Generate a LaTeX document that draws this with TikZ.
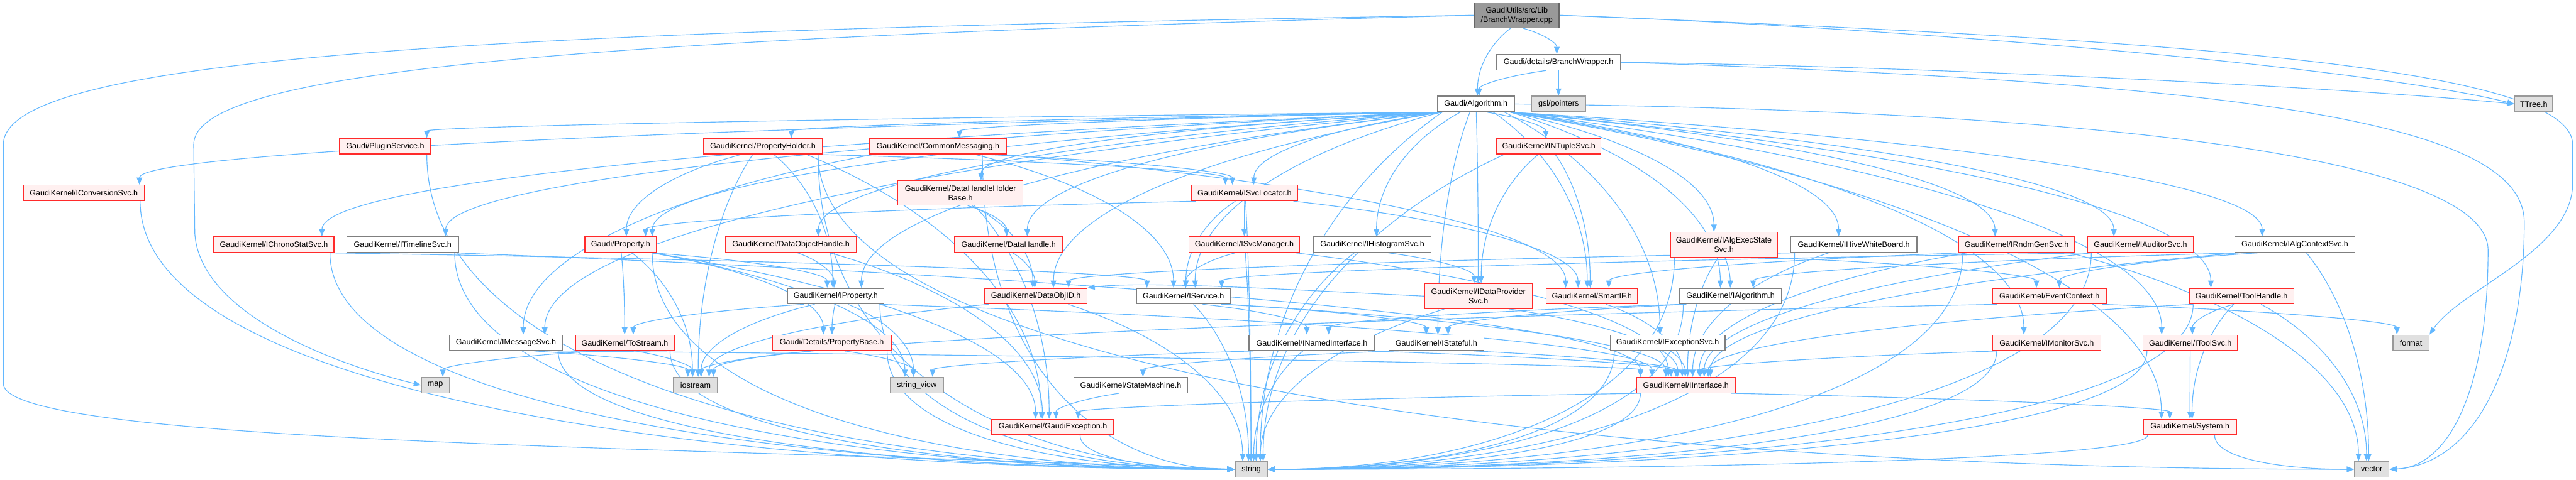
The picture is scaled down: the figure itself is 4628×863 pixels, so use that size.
\documentclass[tikz,border=0pt]{standalone}
\usepackage{fontspec}
\newfontfamily\labfont{Liberation Sans}
\usetikzlibrary{arrows.meta,calc}
\definecolor{eblue}{HTML}{63B8FF}
\definecolor{rbord}{HTML}{FF2A2A}
\definecolor{rfill}{HTML}{FFF0F0}
\definecolor{wbord}{HTML}{7F7F7F}
\definecolor{gfill}{HTML}{E0E0E0}
\definecolor{gbord}{HTML}{999999}
\definecolor{rootfill}{HTML}{999999}
\definecolor{rootbord}{HTML}{666666}
\pgfdeclarelayer{bg}
\pgfsetlayers{bg,main}
\tikzset{
 nbox/.style={draw, line width=0.8pt, inner sep=0pt, minimum height=14pt, align=center, font=\labfont\fontsize{7.1}{8.5}\selectfont},
 rbox/.style={nbox, draw=rbord, fill=rfill},
 wbox/.style={nbox, draw=wbord, fill=white},
 gbox/.style={nbox, draw=gbord, fill=gfill},
 rootbox/.style={nbox, draw=rootbord, fill=rootfill},
 tall/.style={minimum height=22.5pt},
 lnk/.style={draw=eblue, line width=0.65pt, -{Triangle[length=6.5pt,width=5pt]}},
}
\newcommand\Elk[2]{%
\draw[lnk] let \p1=(#1.south west),\p2=(#1.south east),\p3=(#2.north west),\p4=(#2.north east),
 \n1={(\x1+\x2)/2},\n2={(\x3+\x4)/2},
 \n3={min(max(\n1+0.15*(\n2-\n1),\x1+4),\x2-4)},
 \n4={min(max(\n2-0.04*(\n2-\n1),\x3+4),\x4-4)},
 \n5={\y1-\y3}
 in ({\n3*1pt},\y1) .. controls ({(\n3+0.55*(\n4-\n3))*1pt},{\y1-0.2*\n5}) and ({\n4*1pt},{\y3+0.45*\n5}) .. ({\n4*1pt},\y3);}
\newcommand\Ehz[3]{%
\draw[lnk] let \p1=(#1.south west),\p2=(#1.south east),\p3=(#2.#3),
 \n1={(\x1+\x2)/2},
 \n3={min(max(\n1+0.15*(\x3-\n1),\x1+4),\x2-4)}
 in ({\n3*1pt},\y1) .. controls ({\n3*1pt},{\y1+0.7*(\y3-\y1)}) and ({(\x3+0.5*(\n3-\x3))*1pt},\y3) .. (\p3);}
\newcommand\Fan[2]{\foreach \tgt in {#2}{\Elk{#1}{\tgt}}}
\newcommand\Into[3]{\foreach \src in {#2}{\Ehz{\src}{#1}{#3}}}
\begin{document}
\begin{tikzpicture}[x=0.5pt,y=-0.5pt]
\useasboundingbox (0,0) rectangle (4628,863);
% ---------- nodes ----------
\node[rootbox,tall,minimum width=76pt] (cpp) at (2725,27.5) {GaudiUtils/src/Lib\\/BranchWrapper.cpp};
\node[wbox,minimum width=111pt] (bwh) at (2800,112) {Gaudi/details/BranchWrapper.h};
\node[wbox,minimum width=69.5pt] (alg) at (2651.5,187) {Gaudi/Algorithm.h};
\node[gbox,minimum width=49pt] (gsl) at (2800,187) {gsl/pointers};
\node[gbox,minimum width=34pt] (TTree) at (4552,187) {TTree.h};
\node[rbox,minimum width=82pt] (plugin) at (692,263) {Gaudi/PluginService.h};
\node[rbox,minimum width=106.5pt] (propholder) at (1370.5,263) {GaudiKernel/PropertyHolder.h};
\node[rbox,minimum width=123pt] (commsg) at (1685,263) {GaudiKernel/CommonMessaging.h};
\node[rbox,minimum width=93.5pt] (intuple) at (2782.5,263) {GaudiKernel/INTupleSvc.h};
\node[rbox,minimum width=108.5pt] (iconv) at (150.5,347) {GaudiKernel/IConversionSvc.h};
\node[rbox,minimum height=22pt,minimum width=112.5pt] (dhhb) at (1725.5,347) {GaudiKernel/DataHandleHolder\\Base.h};
\node[rbox,minimum width=95pt] (isvcloc) at (2236,347) {GaudiKernel/ISvcLocator.h};
\node[rbox,minimum width=108pt] (ichrono) at (492,440) {GaudiKernel/IChronoStatSvc.h};
\node[wbox,minimum width=100.5pt] (itimeline) at (723.5,440) {GaudiKernel/ITimelineSvc.h};
\node[rbox,minimum width=64pt] (property) at (1115,440) {Gaudi/Property.h};
\node[rbox,minimum width=118pt] (dohandle) at (1421,440) {GaudiKernel/DataObjectHandle.h};
\node[rbox,minimum width=97pt] (dhandle) at (1812,440) {GaudiKernel/DataHandle.h};
\node[rbox,minimum width=99.5pt] (isvcmgr) at (2235.5,440) {GaudiKernel/ISvcManager.h};
\node[wbox,minimum width=105.5pt] (ihisto) at (2465.5,440) {GaudiKernel/IHistogramSvc.h};
\node[rbox,tall,minimum width=96pt] (iaes) at (3097,440) {GaudiKernel/IAlgExecState\\Svc.h};
\node[wbox,minimum width=113.5pt] (ihive) at (3330.5,440) {GaudiKernel/IHiveWhiteBoard.h};
\node[rbox,minimum width=104pt] (irndm) at (3623,440) {GaudiKernel/IRndmGenSvc.h};
\node[rbox,minimum width=95.5pt] (iaudit) at (3845.5,440) {GaudiKernel/IAuditorSvc.h};
\node[wbox,minimum width=108pt] (ialgctx) at (4123,440) {GaudiKernel/IAlgContextSvc.h};
\node[wbox,minimum width=86.5pt] (iprop) at (1501.5,532.5) {GaudiKernel/IProperty.h};
\node[rbox,minimum width=92pt] (dataobjid) at (1861,532.5) {GaudiKernel/DataObjID.h};
\node[wbox,minimum width=84pt] (iservice) at (2126,532.5) {GaudiKernel/IService.h};
\node[rbox,tall,minimum width=97pt] (idps) at (2656,532.5) {GaudiKernel/IDataProvider\\Svc.h};
\node[rbox,minimum width=82pt] (smartif) at (2860,532.5) {GaudiKernel/SmartIF.h};
\node[wbox,minimum width=92pt] (ialgo) at (3109,532.5) {GaudiKernel/IAlgorithm.h};
\node[rbox,minimum width=102pt] (evctx) at (3682,532.5) {GaudiKernel/EventContext.h};
\node[rbox,minimum width=94pt] (toolhandle) at (4027,532.5) {GaudiKernel/ToolHandle.h};
\node[wbox,minimum width=101pt] (imsg) at (909,616.5) {GaudiKernel/IMessageSvc.h};
\node[rbox,minimum width=88.5pt] (tostream) at (1122.5,616.5) {GaudiKernel/ToStream.h};
\node[rbox,minimum width=106.5pt] (propbase) at (1494.5,616.5) {Gaudi/Details/PropertyBase.h};
\node[wbox,minimum width=113pt] (inamed) at (2357,616.5) {GaudiKernel/INamedInterface.h};
\node[wbox,minimum width=85.5pt] (istateful) at (2580.5,616.5) {GaudiKernel/IStateful.h};
\node[wbox,minimum width=103pt] (iexc) at (2996,616.5) {GaudiKernel/IExceptionSvc.h};
\node[rbox,minimum width=97pt] (imon) at (3677,616.5) {GaudiKernel/IMonitorSvc.h};
\node[rbox,minimum width=85pt] (itoolsvc) at (3935,616.5) {GaudiKernel/IToolSvc.h};
\node[gbox,minimum width=32.5pt] (format) at (4331.5,616.5) {format};
\node[gbox,minimum width=25pt] (map) at (782,692.5) {map};
\node[gbox,minimum width=39.5pt] (iostream) at (1249.5,692.5) {iostream};
\node[gbox,minimum width=48pt] (strview) at (1647,692.5) {string\_view};
\node[wbox,minimum width=102.5pt] (statemachine) at (2031.5,692.5) {GaudiKernel/StateMachine.h};
\node[rbox,minimum width=89pt] (iinterface) at (3029,692.5) {GaudiKernel/IInterface.h};
\node[rbox,minimum width=109.5pt] (gexc) at (1891.5,768) {GaudiKernel/GaudiException.h};
\node[rbox,minimum width=83.5pt] (system) at (3934.5,768) {GaudiKernel/System.h};
\node[gbox,minimum width=29pt] (string) at (2248,844) {string};
\node[gbox,minimum width=31pt] (vector) at (4261,844) {vector};
% ---------- edges ----------
\begin{pgfonlayer}{bg}
\fill[white] (0,0) rectangle (4628,863);
\Elk{cpp}{bwh}
\Elk{cpp}{alg}
\draw[lnk] (cpp.east) .. controls (3400,48) and (4250,120) .. (TTree.west);
\draw[lnk] (cpp.east) .. controls (3900,70) and (4622,120) .. (4622,260) -- (4622,330) .. controls (4622,450) and (4420,520) .. (format.north east);
\draw[lnk] (cpp.west) .. controls (900,55) and (6,100) .. (6,260) -- (6,690) .. controls (6,800) and (1300,805) .. (string.west);
\draw[lnk] (cpp.west) .. controls (1000,70) and (348,130) .. (348,260) -- (350,420) .. controls (360,570) and (620,660) .. (map.west);
\Elk{bwh}{alg}
\Elk{bwh}{gsl}
\draw[lnk] (bwh.east) .. controls (3500,120) and (4250,160) .. (TTree.west);
\draw[lnk] (bwh.east) .. controls (4100,150) and (4535,230) .. (4535,400) .. controls (4535,650) and (4450,835) .. (vector.east);
\draw[lnk] (alg.east) .. controls (3900,200) and (4470,300) .. (4470,450) .. controls (4470,700) and (4400,840) .. (vector.east);
\Fan{alg}{plugin,propholder,commsg,intuple,iconv,dhhb,isvcloc,ichrono,itimeline,property,dohandle,dhandle,ihisto,iaes,ihive,irndm,iaudit,ialgctx,iprop,dataobjid,iservice,idps,smartif,ialgo,toolhandle,imsg,istateful,iexc,imon,itoolsvc,system,string}
\Fan{propholder}{property,iprop,isvcloc,gexc,iostream}
\Fan{commsg}{imsg,isvcloc,smartif,iservice}
\Fan{intuple}{idps,smartif,string}
\Fan{dhhb}{dhandle,dataobjid,gexc}
\Fan{isvcloc}{isvcmgr,iservice,smartif,property,string}
\Fan{ichrono}{iservice}
\Fan{itimeline}{iinterface}
\Fan{property}{iprop,propbase,tostream,gexc,strview,iostream}
\Fan{dohandle}{iprop,gexc}
\Fan{dhandle}{dataobjid}
\Fan{isvcmgr}{iservice,iinterface,string}
\Fan{ihisto}{idps,string}
\Fan{iaes}{ialgo,evctx,iinterface}
\Fan{ihive}{iinterface,dataobjid}
\Fan{irndm}{smartif,iinterface,vector}
\Fan{iaudit}{iservice,iinterface}
\Fan{ialgctx}{ialgo,evctx,iinterface,vector}
\Fan{iprop}{propbase,tostream,strview,iostream,iinterface}
\Fan{dataobjid}{string,iostream}
\Fan{iservice}{inamed,istateful,iinterface,string}
\draw[lnk] (idps.west) .. controls (2300,520) and (2050,505) .. (dataobjid.north east);
\Fan{idps}{iinterface,string}
\Fan{smartif}{iinterface}
\Fan{ialgo}{inamed,istateful}
\Fan{evctx}{format,iostream}
\Fan{toolhandle}{itoolsvc,system,iinterface,vector}
\Fan{imsg}{iostream,iinterface}
\Fan{tostream}{map,iostream}
\Fan{propbase}{iostream,strview}
\Fan{inamed}{iinterface,strview,string}
\Fan{istateful}{statemachine,iinterface}
\Fan{iexc}{iinterface}
\Fan{imon}{iinterface}
\Fan{itoolsvc}{system}
\Fan{statemachine}{gexc}
\Fan{iinterface}{system,gexc}
\Into{string}{plugin,propholder,commsg,iconv,ichrono,itimeline,property,iprop,imsg,tostream,propbase,gexc}{west}
\Into{string}{iaes,ihive,irndm,iaudit,ialgo,toolhandle,iexc,imon,itoolsvc,iinterface,system}{east}
\Into{vector}{propholder,system}{west}
\end{pgfonlayer}
\end{tikzpicture}
\end{document}
